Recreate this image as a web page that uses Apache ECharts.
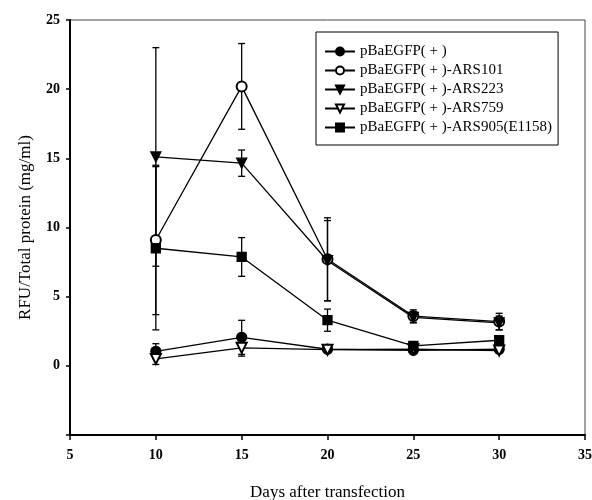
<!DOCTYPE html>
<html>
<head>
<meta charset="utf-8">
<script src="https://cdn.jsdelivr.net/npm/echarts@6/dist/echarts.min.js"></script>
<style>
html, body { margin: 0; padding: 0; background: #fff; }
#main { width: 592px; height: 500px; }
</style>
</head>
<body>
<div id="main"></div>
<script>
// days after transfection
var days = [10, 15, 20, 25, 30]
var seriesNames = ['pBaEGFP( + )', 'pBaEGFP( + )-ARS101', 'pBaEGFP( + )-ARS223', 'pBaEGFP( + )-ARS759', 'pBaEGFP( + )-ARS905(E1158)']
// mean values
var ctrl = [1.05, 2.06, 1.2, 1.12, 1.2]
var ars101 = [9.1, 20.2, 7.7, 3.6, 3.2]
var ars223 = [15.1, 14.65, 7.6, 3.5, 3.1]
var ars759 = [0.5, 1.3, 1.17, 1.2, 1.1]
var ars905 = [8.5, 7.87, 3.3, 1.45, 1.85]
// error (+/-)
var ctrlErr = [0.55, 1.23, 0.15, 0.15, 0.2]
var ars101Err = [5.4, 3.1, 3.0, 0.45, 0.6]
var ars223Err = [7.9, 0.95, 2.9, 0.4, 0.5]
var ars759Err = [0.4, 0.6, 0.2, 0.1, 0.15]
var ars905Err = [5.9, 1.4, 0.8, 0.3, 0.2]
var yTicks = [-5, 0, 5, 10, 15, 20, 25]

var means = [ctrl, ars101, ars223, ars759, ars905]
var errs = [ctrlErr, ars101Err, ars223Err, ars759Err, ars905Err]
var symbols = ['circle', 'emptyCircle', 'triangle', 'emptyTriangle', 'rect']
var rotates = [0, 0, 180, 180, 0]
var sizes = [10, 10, 10, 10, 9]

var chart = echarts.init(document.getElementById('main'))

function errorBars(params, api) {
    var x = api.value(0)
    var lo = api.coord([x, api.value(1)])
    var hi = api.coord([x, api.value(2)])
    var w = 3.5
    var style = {stroke: '#000', lineWidth: 1.3}
    return {
        type: 'group',
        children: [
            {type: 'line', shape: {x1: hi[0], y1: hi[1], x2: lo[0], y2: lo[1]}, style: style},
            {type: 'line', shape: {x1: hi[0] - w, y1: hi[1], x2: hi[0] + w, y2: hi[1]}, style: style},
            {type: 'line', shape: {x1: lo[0] - w, y1: lo[1], x2: lo[0] + w, y2: lo[1]}, style: style}
        ]
    }
}

var series = []
means.forEach(function (m, i) {
    series.push({
        name: seriesNames[i] + '_err',
        type: 'custom',
        z: 1,
        renderItem: errorBars,
        data: days.map(function (d, j) { return [d, m[j] - errs[i][j], m[j] + errs[i][j]] })
    })
})
means.forEach(function (m, i) {
    series.push({
        name: seriesNames[i],
        type: 'line',
        z: 3,
        symbol: symbols[i],
        symbolSize: sizes[i],
        symbolRotate: rotates[i],
        showAllSymbol: true,
        lineStyle: {color: '#000', width: 1.3},
        itemStyle: {color: '#000', borderColor: '#000', borderWidth: 1.3},
        data: days.map(function (d, j) { return [d, m[j]] })
    })
})

var labelFont = {fontFamily: 'Liberation Serif', fontWeight: 'bold', fontSize: 14, color: '#000'}

var option = {
    animation: false,
    backgroundColor: '#fff',
    grid: {
        left: 70, right: 7, top: 20, bottom: 65,
        outerBoundsMode: 'none',
        containLabel: false,
        show: true, borderColor: '#444', borderWidth: 1
    },
    legend: {
        data: seriesNames,
        orient: 'vertical',
        left: 316,
        top: 32,
        itemWidth: 30,
        itemHeight: 10,
        itemGap: 4,
        borderColor: '#000',
        borderWidth: 1,
        padding: [12, 6, 10, 8],
        textStyle: {fontFamily: 'Liberation Serif', fontSize: 15, color: '#000'}
    },
    xAxis: {
        type: 'value',
        min: 5, max: 35, interval: 5,
        name: 'Days after transfection',
        nameLocation: 'middle',
        nameGap: 49,
        nameTextStyle: {fontFamily: 'Liberation Serif', fontSize: 17, color: '#000'},
        axisLine: {onZero: false, lineStyle: {color: '#000', width: 2}},
        axisTick: {inside: false, length: 5, lineStyle: {color: '#000', width: 1.5}},
        axisLabel: Object.assign({margin: 13}, labelFont),
        splitLine: {show: false}
    },
    yAxis: {
        type: 'value',
        min: yTicks[0], max: yTicks[yTicks.length - 1], interval: 5,
        name: 'RFU/Total protein (mg/ml)',
        nameLocation: 'middle',
        nameGap: 36,
        nameTextStyle: {fontFamily: 'Liberation Serif', fontSize: 17, color: '#000'},
        axisLine: {onZero: false, lineStyle: {color: '#000', width: 2}},
        axisTick: {inside: false, length: 4, lineStyle: {color: '#000', width: 1.5}},
        axisLabel: Object.assign({
            margin: 10,
            formatter: function (v) { return v === yTicks[0] ? '' : v }
        }, labelFont),
        splitLine: {show: false}
    },
    series: series
}
chart.setOption(option)
</script>
</body>
</html>
